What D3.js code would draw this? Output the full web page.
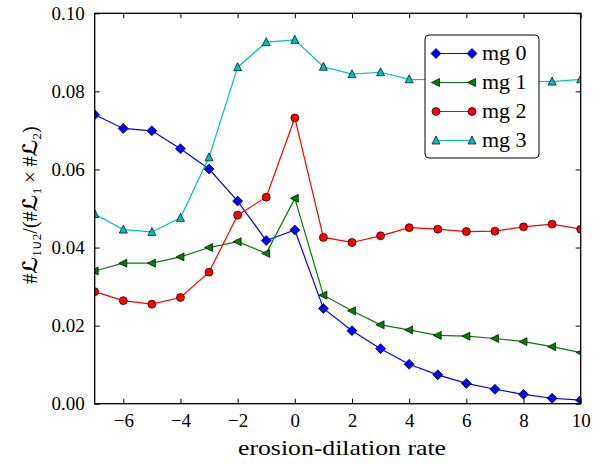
<!DOCTYPE html>
<html><head><meta charset="utf-8">
<script src="https://cdn.jsdelivr.net/npm/d3@7"></script>
</head><body style="margin:0"><svg id="c" width="602" height="464"></svg>
<script>
const xs = [-7,-6,-5,-4,-3,-2,-1,0,1,2,3,4,5,6,7,8,9,10];
const mg0 = [0.0740,0.0705,0.0699,0.0653,0.0601,0.0519,0.0418,0.0445,0.0244,0.0187,0.0141,0.0101,0.0074,0.0052,0.0037,0.0024,0.0014,0.0009];
const mg1 = [0.0340,0.0360,0.0360,0.0376,0.0400,0.0415,0.0385,0.0526,0.0278,0.0238,0.0202,0.0189,0.0175,0.0173,0.0167,0.0159,0.0146,0.0131];
const mg2 = [0.0287,0.0264,0.0255,0.0272,0.0337,0.0483,0.0529,0.0732,0.0426,0.0413,0.0430,0.0451,0.0447,0.0441,0.0442,0.0453,0.0460,0.0447];
const mg3 = [0.0486,0.0446,0.0440,0.0476,0.0631,0.0862,0.0926,0.0932,0.0863,0.0844,0.0849,0.0831,0.0830,0.0828,0.0827,0.0826,0.0825,0.0831];
const seriesNames = ["mg 0","mg 1","mg 2","mg 3"];
const xTicks = [-6,-4,-2,0,2,4,6,8,10];
const yTicks = [0,0.02,0.04,0.06,0.08,0.10];

const colors = ["#0000ff","#008000","#ff0000","#00bfbf"];
const shapes = ["diamond","tri-left","circle","tri-up"];
const series = [mg0,mg1,mg2,mg3];
const SERIF = '"Times New Roman"';
const CAL = '"DejaVu Sans"';

const svg = d3.select("#c");
const L=94.7,R=580.7,T=13.3,B=403.7;
const x = d3.scaleLinear().domain([-7,10]).range([L,R]);
const y = d3.scaleLinear().domain([0,0.10]).range([B,T]);

function markerPath(s){
  if(s==="diamond") return "M0,-5L5,0L0,5L-5,0Z";
  if(s==="tri-left") return "M-4.5,0L3.5,-4L3.5,4Z";
  if(s==="tri-up") return "M0,-4.5L4,3.5L-4,3.5Z";
  return d3.symbol(d3.symbolCircle,50)();
}

svg.append("defs").append("clipPath").attr("id","clip").append("rect")
  .attr("x",L).attr("y",T).attr("width",R-L).attr("height",B-T);

const line = d3.line().x((d,i)=>x(xs[i])).y(d=>y(d));
const g = svg.append("g").attr("clip-path","url(#clip)");
series.forEach((s,k)=>{
  g.append("path").datum(s).attr("d",line).attr("fill","none")
    .attr("stroke",colors[k]).attr("stroke-width",1.2);
  g.selectAll(null).data(s).enter().append("path")
    .attr("transform",(d,i)=>`translate(${x(xs[i])},${y(d)})`)
    .attr("d",markerPath(shapes[k])).attr("fill",colors[k])
    .attr("stroke","#000").attr("stroke-width",0.7);
});

const xb = svg.append("g").attr("transform",`translate(0,${B})`)
  .call(d3.axisBottom(x).tickValues(xTicks).tickSize(-5).tickPadding(10).tickFormat(d3.format("d")));
const xt = svg.append("g").attr("transform",`translate(0,${T})`)
  .call(d3.axisTop(x).tickValues(xTicks).tickSize(-5).tickFormat(""));
const yl = svg.append("g").attr("transform",`translate(${L},0)`)
  .call(d3.axisLeft(y).tickValues(yTicks).tickSize(-5).tickPadding(10).tickFormat(d3.format(".2f")));
const yr = svg.append("g").attr("transform",`translate(${R},0)`)
  .call(d3.axisRight(y).tickValues(yTicks).tickSize(-5).tickFormat(""));
[xb,xt,yl,yr].forEach(a=>{
  a.attr("font-family",SERIF).attr("font-size",19);
  a.select(".domain").remove();
  a.selectAll(".tick line").attr("stroke","#000").attr("stroke-width",1);
  a.selectAll("text").style("font-family",SERIF).attr("font-size",19).attr("fill","#000");
});
svg.append("rect").attr("x",L).attr("y",T).attr("width",R-L).attr("height",B-T)
  .attr("fill","none").attr("stroke","#000").attr("stroke-width",1.3);

const lg = svg.append("g");
lg.append("rect").attr("x",425).attr("y",35).attr("width",114).attr("height",123)
  .attr("rx",4).attr("fill","#fff").attr("stroke","#000").attr("stroke-width",1);
seriesNames.forEach((n,k)=>{
  const yy = 53.5 + k*29;
  lg.append("line").attr("x1",436).attr("x2",472).attr("y1",yy).attr("y2",yy)
    .attr("stroke",colors[k]).attr("stroke-width",1.2);
  [436,472].forEach(xx=>lg.append("path").attr("transform",`translate(${xx},${yy})`)
    .attr("d",markerPath(shapes[k])).attr("fill",colors[k]).attr("stroke","#000").attr("stroke-width",0.7));
  lg.append("text").attr("x",482).attr("y",yy+6.5).style("font-family",SERIF).attr("font-size",22).text(n);
});

svg.append("text").attr("x",342).attr("y",455).attr("text-anchor","middle")
  .style("font-family",SERIF).attr("font-size",22)
  .attr("textLength",208).attr("lengthAdjust","spacingAndGlyphs").text("erosion-dilation rate");
const yt = svg.append("text").attr("transform","translate(37,205) rotate(-90)")
  .attr("text-anchor","middle").style("font-family",SERIF).attr("font-size",20);
yt.append("tspan").text("#");
yt.append("tspan").style("font-family",CAL).style("font-weight","bold").text("ℒ");
yt.append("tspan").attr("font-size",13).attr("dy",4).text("1∪2");
yt.append("tspan").attr("dy",-4).text("/(#");
yt.append("tspan").style("font-family",CAL).style("font-weight","bold").text("ℒ");
yt.append("tspan").attr("font-size",13).attr("dy",4).text("1");
yt.append("tspan").attr("dy",-4).text(" × #");
yt.append("tspan").style("font-family",CAL).style("font-weight","bold").text("ℒ");
yt.append("tspan").attr("font-size",13).attr("dy",4).text("2");
yt.append("tspan").attr("dy",-4).text(")");
</script></body></html>
